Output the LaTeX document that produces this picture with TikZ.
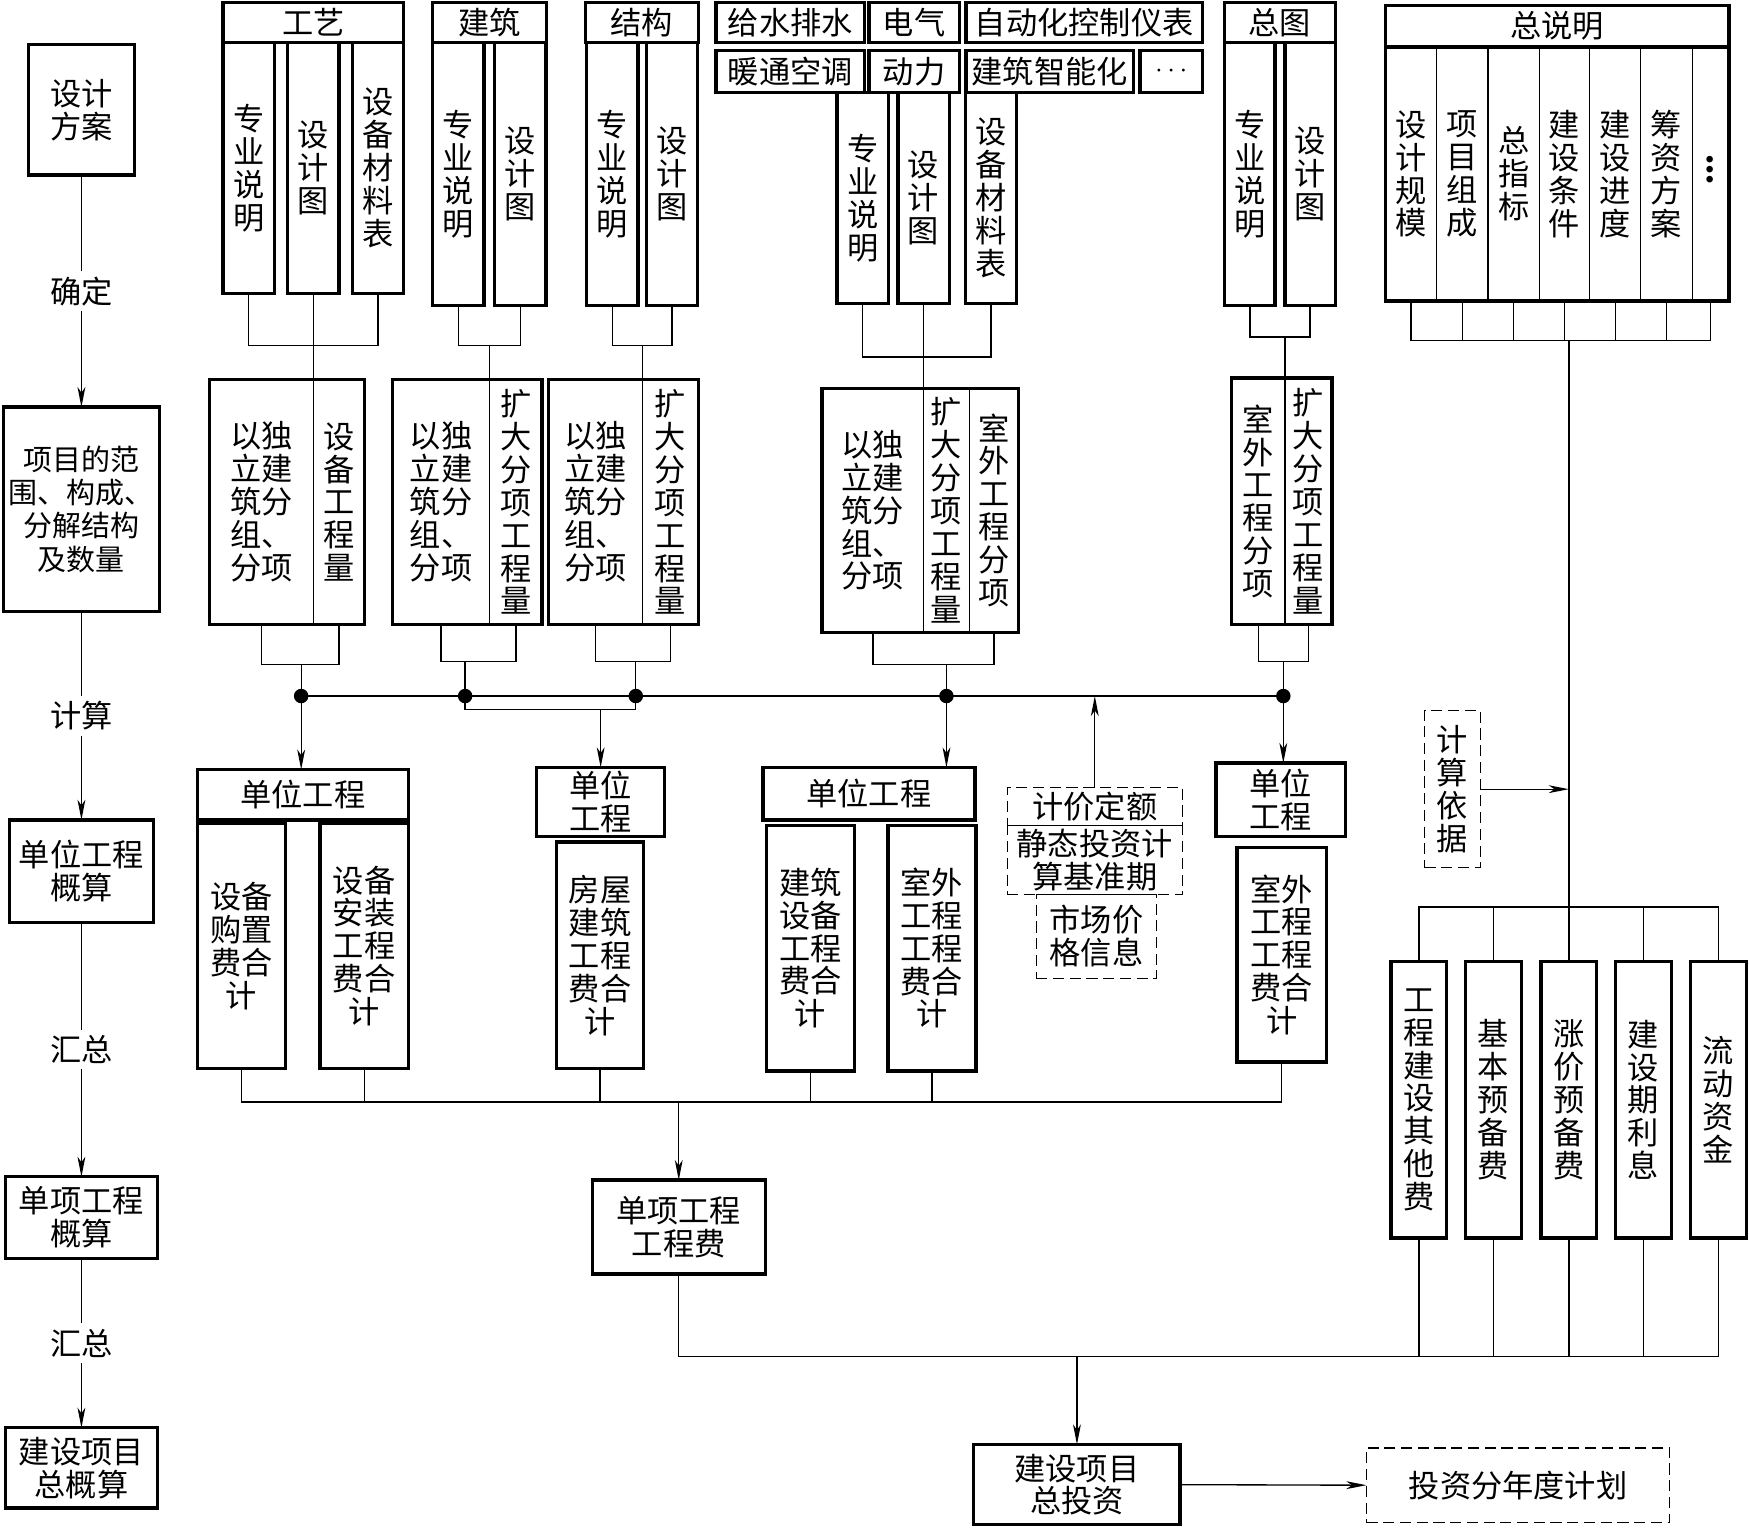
\documentclass[tikz,border=0pt]{standalone}
\usepackage{fontspec}
\setmainfont{Noto Sans CJK SC}
\usetikzlibrary{arrows.meta}

\newcommand{\vdotsbig}{\vbox{\baselineskip=9pt\lineskiplimit=-20pt\hbox{·}\hbox{·}\hbox{·}}}

\begin{document}
\begin{tikzpicture}[
x=1pt,
y=-1pt,
every node/.style={font=\fontsize{28}{29.5}\selectfont,align=center,inner sep=0pt,outer sep=0pt},
blk/.style={draw,line width=3pt},
cell/.style={draw,line width=1pt},
dbox/.style={draw,line width=1.2pt,dash pattern=on 10pt off 5pt},
lbl/.style={fill=white,inner xsep=2pt,inner ysep=5pt},
outline/.style={line width=3pt},
link/.style={line width=1.2pt},
flow/.style={line width=1.2pt,-{Stealth[length=18pt,width=7pt,inset=5pt]}},
junction/.style={circle,fill=black,minimum size=13pt}
]

\path[use as bounding box] (0,0) rectangle (1568,1370);

\node[blk,minimum width=95,minimum height=117] (scheme) at (73,98.5) {设计\\方案};
\node[blk,minimum width=140,minimum height=183,font=\fontsize{26}{30}\selectfont] (scope) at (73,456.5) {项目的范\\围、构成、\\分解结构\\及数量};
\node[blk,minimum width=129,minimum height=92] (unitest) at (73,781) {单位工程\\概算};
\node[blk,minimum width=136,minimum height=73] (itemest) at (73,1091.5) {单项工程\\概算};
\node[blk,minimum width=136,minimum height=72] (totalest) at (73,1316) {建设项目\\总概算};

\draw[flow] (scheme) -- node[lbl] {确定} (scope);
\draw[flow] (scope) -- node[lbl] {计算} (unitest);
\draw[flow] (unitest) -- node[lbl] {汇总} (itemest);
\draw[flow] (itemest) -- node[lbl] {汇总} (totalest);

\node[blk,minimum width=162,minimum height=36] (gyhead) at (281,20) {工艺};
\node[blk,minimum width=46,minimum height=225] (gy1) at (223,150.5) {专\\业\\说\\明};
\node[blk,minimum width=46,minimum height=225] (gy2) at (281,150.5) {设\\计\\图};
\node[blk,minimum width=46,minimum height=225] (gy3) at (339,150.5) {设\\备\\材\\料\\表};

\node[blk,minimum width=102,minimum height=36] (jzhead) at (439,20) {建筑};
\node[blk,minimum width=46,minimum height=236] (jz1) at (411,156) {专\\业\\说\\明};
\node[blk,minimum width=46,minimum height=236] (jz2) at (466.5,156) {设\\计\\图};

\node[blk,minimum width=101,minimum height=36] (jghead) at (575.5,20) {结构};
\node[blk,minimum width=46,minimum height=236] (jg1) at (549,156) {专\\业\\说\\明};
\node[blk,minimum width=46,minimum height=236] (jg2) at (602.5,156) {设\\计\\图};

\node[blk,minimum width=133,minimum height=36] (gs) at (708.5,20) {给水排水};
\node[blk,minimum width=81,minimum height=36] (dq) at (819.5,20) {电气};
\node[blk,minimum width=212,minimum height=36] (zk) at (972,20) {自动化控制仪表};
\node[blk,minimum width=133,minimum height=38] (nt) at (708.5,64) {暖通空调};
\node[blk,minimum width=81,minimum height=38] (dl) at (819.5,64) {动力};
\node[blk,minimum width=150,minimum height=38] (zn) at (941,64) {建筑智能化};
\node[blk,minimum width=56,minimum height=38] (etc) at (1050,64) {$\cdots$};
\node[blk,minimum width=46,minimum height=189] (sz1) at (773.5,177.5) {专\\业\\说\\明};
\node[blk,minimum width=46,minimum height=189] (sz2) at (828,177.5) {设\\计\\图};
\node[blk,minimum width=46,minimum height=189] (sz3) at (888.5,177.5) {设\\备\\材\\料\\表};

\node[blk,minimum width=99,minimum height=36] (zthead) at (1147.5,20) {总图};
\node[blk,minimum width=45,minimum height=236] (zt1) at (1120.5,156) {专\\业\\说\\明};
\node[blk,minimum width=45,minimum height=236] (zt2) at (1174.5,156) {设\\计\\图};

\node[blk,minimum width=308,minimum height=37] (zsmhead) at (1396,23.5) {总说明};
\node[cell,minimum width=46,minimum height=228] (zc1) at (1265,156) {设\\计\\规\\模};
\node[cell,minimum width=46,minimum height=228] (zc2) at (1311,156) {项\\目\\组\\成};
\node[cell,minimum width=46,minimum height=228] (zc3) at (1357,156) {总\\指\\标};
\node[cell,minimum width=45,minimum height=228] (zc4) at (1402.5,156) {建\\设\\条\\件};
\node[cell,minimum width=46,minimum height=228] (zc5) at (1448,156) {建\\设\\进\\度};
\node[cell,minimum width=46,minimum height=228] (zc6) at (1494,156) {筹\\资\\方\\案};
\node[cell,minimum width=33,minimum height=228] (zc7) at (1533.5,156) {\vdotsbig};
\draw[outline] (zc1.north west) rectangle (zc7.south east);

\node[cell,minimum width=93,minimum height=220] (secAl) at (234.5,450) {以独\\立建\\筑分\\组、\\分项};
\node[cell,minimum width=46,minimum height=220] (secAr) at (304,450) {设\\备\\工\\程\\量};
\draw[outline] (secAl.north west) rectangle (secAr.south east);

\node[cell,minimum width=87,minimum height=220] (secBl) at (395.5,450) {以独\\立建\\筑分\\组、\\分项};
\node[cell,minimum width=47,minimum height=220] (secBr) at (462.5,450) {扩\\大\\分\\项\\工\\程\\量};
\draw[outline] (secBl.north west) rectangle (secBr.south east);

\node[cell,minimum width=84,minimum height=220] (secCl) at (534,450) {以独\\立建\\筑分\\组、\\分项};
\node[cell,minimum width=50,minimum height=220] (secCr) at (601,450) {扩\\大\\分\\项\\工\\程\\量};
\draw[outline] (secCl.north west) rectangle (secCr.south east);

\node[cell,minimum width=91,minimum height=219] (secDl) at (782.5,457.5) {以独\\立建\\筑分\\组、\\分项};
\node[cell,minimum width=41,minimum height=219] (secDm) at (848.5,457.5) {扩\\大\\分\\项\\工\\程\\量};
\node[cell,minimum width=44,minimum height=219] (secDr) at (891,457.5) {室\\外\\工\\程\\分\\项};
\draw[outline] (secDl.north west) rectangle (secDr.south east);

\node[cell,minimum width=48,minimum height=221] (secEl) at (1128,449.5) {室\\外\\工\\程\\分\\项};
\node[cell,minimum width=42,minimum height=221] (secEr) at (1173,449.5) {扩\\大\\分\\项\\工\\程\\量};
\draw[outline] (secEl.north west) rectangle (secEr.south east);

\coordinate (gyJoin) at (281,310);
\coordinate (jzJoin) at (439,310);
\coordinate (jgJoin) at (576,310);
\coordinate (szJoin) at (828,320);
\coordinate (ztJoin) at (1152,302);

\draw[link] (gy1.south) |- (gyJoin) -| (gy3.south);
\draw[link] (gy2.south) -- (secAl.north east);
\draw[link] (jz1.south) |- (jzJoin) -| (jz2.south);
\draw[link] (jzJoin) -- (secBl.north east);
\draw[link] (jg1.south) |- (jgJoin) -| (jg2.south);
\draw[link] (jgJoin) -- (secCl.north east);
\draw[link] (sz1.south) |- (szJoin) -| (sz3.south);
\draw[link] (sz2.south) -- (secDl.north east);
\draw[link] (zt1.south) |- (ztJoin) -| (zt2.south);
\draw[link] (ztJoin) -- (secEl.north east);

\node[junction] (dotA) at (270,624) {};
\node[junction] (dotB) at (417,624) {};
\node[junction] (dotC) at (570,624) {};
\node[junction] (dotD) at (848.5,624) {};
\node[junction] (dotE) at (1150.5,624) {};

\coordinate (secAjoin) at (270,596);
\coordinate (secBjoin) at (417,593);
\coordinate (secCjoin) at (570,593);
\coordinate (secDjoin) at (848.5,596);
\coordinate (secEjoin) at (1150.5,593);

\draw[link] (secAl.south) |- (secAjoin) -| (secAr.south);
\draw[link] (secAjoin) -- (dotA);
\draw[link] (secBl.south) |- (secBjoin) -| (secBr.south);
\draw[link] (secBjoin) -- (dotB);
\draw[link] (secCl.south) |- (secCjoin) -| (secCr.south);
\draw[link] (secCjoin) -- (dotC);
\draw[link] (secDl.south) |- (secDjoin) -| (secDr.south);
\draw[link] (secDjoin) -- (dotD);
\draw[link] (secEl.south) |- (secEjoin) -| (secEr.south);
\draw[link] (secEjoin) -- (dotE);

\draw[link] (dotA) -- (dotE);

\node[blk,minimum width=189,minimum height=45] (unit1) at (271.5,712.5) {单位工程};
\node[blk,minimum width=79,minimum height=220] (u1a) at (216.5,848) {设备\\购置\\费合\\计};
\node[blk,minimum width=79,minimum height=220] (u1b) at (326.5,848) {设备\\安装\\工程\\费合\\计};

\node[blk,minimum width=115,minimum height=62] (unit2) at (538.5,719) {单位\\工程};
\node[blk,minimum width=78,minimum height=203] (u2) at (538,856.5) {房屋\\建筑\\工程\\费合\\计};

\node[blk,minimum width=190,minimum height=47] (unit3) at (779,711.5) {单位工程};
\node[blk,minimum width=79,minimum height=220] (u3a) at (726.5,850) {建筑\\设备\\工程\\费合\\计};
\node[blk,minimum width=79,minimum height=220] (u3b) at (835.5,850) {室外\\工程\\工程\\费合\\计};

\node[blk,minimum width=116,minimum height=66] (unit4) at (1148,717) {单位\\工程};
\node[blk,minimum width=80,minimum height=192] (u4) at (1149,856) {室外\\工程\\工程\\费合\\计};

\coordinate (unit2join) at (538.5,636);

\draw[flow] (dotA) -- (dotA |- unit1.north);
\draw[link] (dotB) |- (unit2join) -| (dotC);
\draw[flow] (unit2join) -- (unit2.north);
\draw[flow] (dotD) -- (dotD |- unit3.north);
\draw[flow] (dotE) -- (dotE |- unit4.north);

\node[dbox,minimum width=157,minimum height=34] (quota) at (981.5,723) {计价定额};
\node[dbox,minimum width=157,minimum height=62] (basis) at (981.5,771) {静态投资计\\算基准期};
\node[dbox,minimum width=108,minimum height=75] (market) at (983,839.5) {市场价\\格信息};
\node[dbox,minimum width=50,minimum height=141] (basisref) at (1302,707.5) {计\\算\\依\\据};

\draw[flow] (quota.north) -- (quota.north |- dotA);

\node[blk,minimum width=50,minimum height=248] (fee1) at (1272,986) {工\\程\\建\\设\\其\\他\\费};
\node[blk,minimum width=50,minimum height=248] (fee2) at (1339,986) {基\\本\\预\\备\\费};
\node[blk,minimum width=50,minimum height=248] (fee3) at (1406.5,986) {涨\\价\\预\\备\\费};
\node[blk,minimum width=50,minimum height=248] (fee4) at (1473.5,986) {建\\设\\期\\利\\息};
\node[blk,minimum width=50,minimum height=248] (fee5) at (1540.5,986) {流\\动\\资\\金};

\coordinate (zsmJoin) at (1406.5,305);
\coordinate (feeBus) at (1406.5,813);

\draw[link] (zc1.south) |- (zsmJoin) -| (zc7.south);
\foreach \c in {zc2,zc3,zc4,zc5,zc6}
  \draw[link] (\c.south) -- (\c.south |- zsmJoin);
\draw[link] (zsmJoin) -- (fee3.north);
\draw[link] (fee1.north) |- (feeBus) -| (fee5.north);
\foreach \f in {fee2,fee4}
  \draw[link] (\f.north) -- (\f.north |- feeBus);
\draw[flow] (basisref.east) -- (basisref.east -| zsmJoin);

\node[blk,minimum width=155,minimum height=84] (sub) at (608.5,1100) {单项工程\\工程费};
\node[blk,minimum width=185,minimum height=72] (total) at (965.5,1331) {建设项目\\总投资};
\node[dbox,minimum width=272,minimum height=67] (yearplan) at (1361,1331.5) {投资分年度计划};

\coordinate (bus1) at (608.5,988);
\coordinate (bus2) at (965.5,1216);

\draw[link] (u1a.south) |- (bus1) -| (u4.south);
\foreach \u in {u1b,u2,u3a,u3b}
  \draw[link] (\u.south) -- (\u.south |- bus1);
\draw[flow] (bus1) -- (sub.north);

\draw[link] (sub.south) |- (bus2) -| (fee5.south);
\foreach \f in {fee1,fee2,fee3,fee4}
  \draw[link] (\f.south) -- (\f.south |- bus2);
\draw[flow] (bus2) -- (total.north);
\draw[flow] (total.east) -- (yearplan.west);

\end{tikzpicture}
\end{document}
